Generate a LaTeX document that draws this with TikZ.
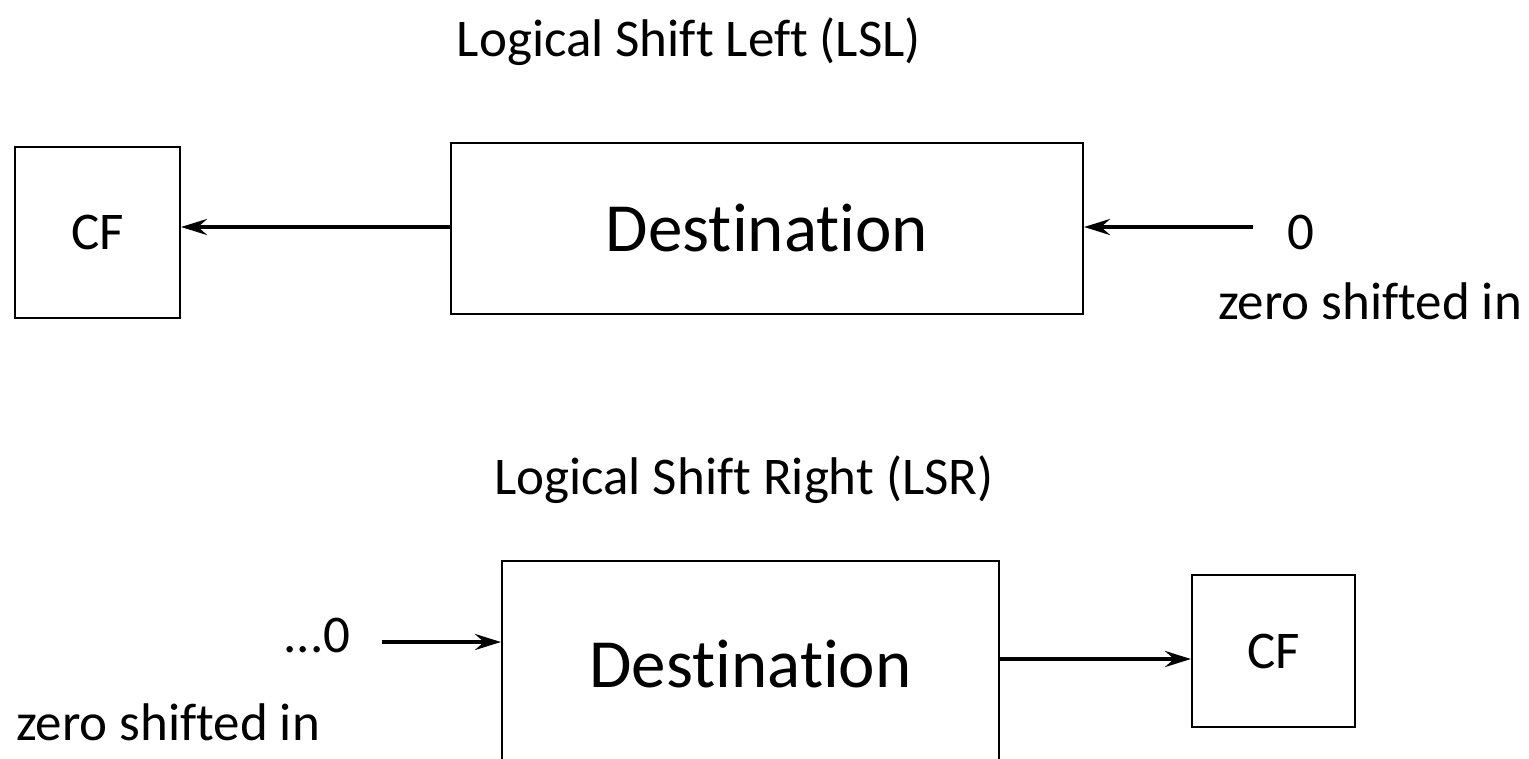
\documentclass[tikz,border=0pt]{standalone}
\usepackage{fontspec}
\setmainfont{Carlito}[Ligatures=NoCommon]
\usetikzlibrary{arrows.meta}
\begin{document}
\begin{tikzpicture}[x=0.5pt,y=-0.5pt,
  box/.style={draw=black, line width=1pt, fill=white, inner sep=0pt},
  label/.style={inner sep=0pt, font=\fontsize{26.5}{30}\selectfont},
  bigtext/.style={font=\fontsize{34.5}{40}\selectfont},
  shiftarrow/.style={line width=2pt, -{Stealth[length=13pt,width=8pt,inset=4.5pt]}}]
  \clip (0,0) rectangle (1529,759);
  \useasboundingbox (0,0) rectangle (1529,759);

  % Logical shift left
  \node[label] (titleL) at (689,42) {Logical Shift Left (LSL)};
  \node[box, label, minimum width=82.5pt, minimum height=85.5pt] (cf1) at (97.5,232.5) {CF};
  \node[box, bigtext, minimum width=316pt, minimum height=85.5pt] (dest1) at (767,228.5) {Destination};
  \node[label] (zero1) at (1301,232) {0};
  \node[label] (note1) at (1370,301) {zero shifted in};
  \coordinate (in1) at (1253,227);
  \draw[shiftarrow] (dest1.west |- in1) -- (cf1.east |- in1);
  \draw[shiftarrow] (in1) -- (dest1.east |- in1);

  % Logical shift right
  \node[label] (titleR) at (744,480) {Logical Shift Right (LSR)};
  \node[box, minimum width=248.5pt, minimum height=100pt] (dest2) at (750.5,661) {};
  \node[bigtext, inner sep=0pt] (dtext2) at (750.5,664) {Destination};
  \node[box, label, minimum width=81.5pt, minimum height=76pt] (cf2) at (1273.5,651) {CF};
  \node[label] (zero2) at (317,636) {...0};
  \node[label] (note2) at (168,722) {zero shifted in};
  \coordinate (in2) at (382,642);
  \coordinate (out2) at (999,659);
  \draw[shiftarrow] (in2) -- (dest2.west |- in2);
  \draw[shiftarrow] (out2) -- (cf2.west |- out2);
\end{tikzpicture}
\end{document}
